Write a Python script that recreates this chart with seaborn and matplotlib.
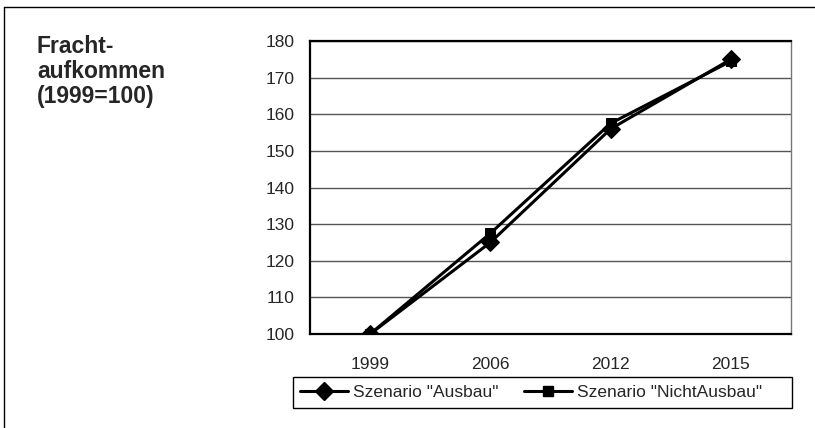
import matplotlib
matplotlib.use("Agg")
import matplotlib.pyplot as plt
from matplotlib.lines import Line2D
from matplotlib.patches import Rectangle
from matplotlib.ticker import FixedLocator, NullFormatter, FixedFormatter
import pandas as pd
import seaborn as sns

# data
years = ["1999", "2006", "2012", "2015"]
ausbau = [100, 125, 156, 175]
nicht_ausbau = [100, 127.5, 157.5, 174.5]
series_names = ['Szenario "Ausbau"', 'Szenario "NichtAusbau"']
series_markers = ["D", "s"]
marker_sizes = [9, 7.5]

df = pd.DataFrame({
    "pos": list(range(len(years))) * 2,
    "value": ausbau + nicht_ausbau,
    "scenario": [series_names[0]] * len(years) + [series_names[1]] * len(years),
})

sns.set_style("white")
plt.rcParams["font.family"] = ["Liberation Sans", "DejaVu Sans"]

W, H = 815, 428
fig = plt.figure(figsize=(W / 100, H / 100), dpi=100)
ax = fig.add_axes([310 / W, 1 - 334 / H, 481 / W, 293 / H])

for name, mk, ms in zip(series_names, series_markers, marker_sizes):
    sns.lineplot(data=df[df["scenario"] == name], x="pos", y="value",
                 color="black", marker=mk, markersize=ms, markeredgecolor="black",
                 linewidth=2.2, sort=False, legend=False, ax=ax)

ax.set_xlim(-0.5, len(years) - 0.5)
ax.set_ylim(100, 180)
ax.set_yticks(range(100, 181, 10))
ax.xaxis.set_major_locator(FixedLocator([i - 0.5 for i in range(len(years) + 1)]))
ax.xaxis.set_major_formatter(NullFormatter())
ax.xaxis.set_minor_locator(FixedLocator(list(range(len(years)))))
ax.xaxis.set_minor_formatter(FixedFormatter(years))
ax.tick_params(axis="x", which="minor", length=0, pad=16.5, labelsize=12.5)
ax.tick_params(axis="x", which="major", length=4, width=1, color="black", direction="out")
ax.tick_params(axis="y", length=4, width=1, color="black", direction="out", labelsize=12.5, pad=7)
ax.set_xlabel("")
ax.set_ylabel("")
ax.yaxis.grid(True, color="#555555", linewidth=1)
ax.set_axisbelow(True)
for side in ["left", "bottom", "top"]:
    ax.spines[side].set_color("black")
    ax.spines[side].set_linewidth(1.6)
ax.spines["right"].set_color("#777777")
ax.spines["right"].set_linewidth(1)

fig.text(37 / W, 1 - 35 / H, "Fracht-\naufkommen\n(1999=100)",
         fontsize=16.5, fontweight="bold", va="top", ha="left", linespacing=1.12)

# legend box drawn separately so it spans the same width as in the original
fig.add_artist(Rectangle((293 / W, 1 - 408 / H), 499 / W, 31 / H, fill=False,
                         edgecolor="black", linewidth=1, transform=fig.transFigure))
handles = [
    Line2D([], [], color="black", lw=2.2, marker=mk, markersize=ms)
    for mk, ms in zip(series_markers, marker_sizes)
]
fig.legend(handles, series_names, loc="center left", ncol=2,
           bbox_to_anchor=(300 / W, 1 - 392.5 / H), frameon=False, fontsize=12.5,
           handlelength=2.75, handletextpad=0.3, columnspacing=1.5,
           borderpad=0, borderaxespad=0)

# outer frame (left and top edges)
fig.add_artist(Line2D([4 / W, 4 / W], [0, 1 - 7 / H], color="black", lw=1,
                      transform=fig.transFigure))
fig.add_artist(Line2D([4 / W, 1], [1 - 7 / H, 1 - 7 / H], color="black", lw=1,
                      transform=fig.transFigure))

fig.savefig("out.png", dpi=100)
